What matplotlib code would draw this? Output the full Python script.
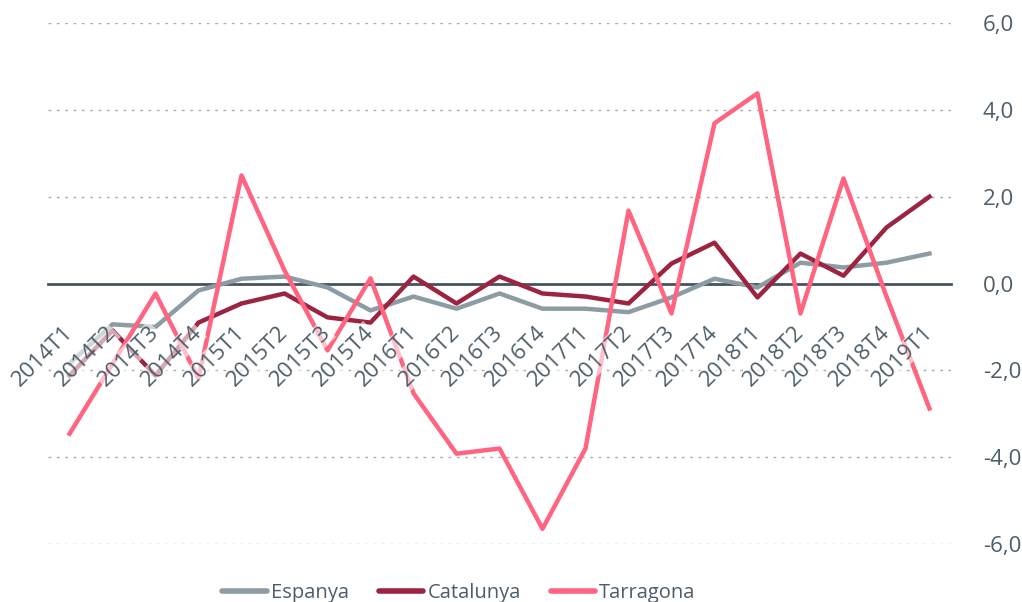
import matplotlib.pyplot as plt
import numpy as np
from matplotlib.ticker import FuncFormatter

plt.rcParams['font.family'] = ['Open Sans', 'DejaVu Sans']

# Trimestres
trimestres = ['2014T1', '2014T2', '2014T3', '2014T4',
              '2015T1', '2015T2', '2015T3', '2015T4',
              '2016T1', '2016T2', '2016T3', '2016T4',
              '2017T1', '2017T2', '2017T3', '2017T4',
              '2018T1', '2018T2', '2018T3', '2018T4',
              '2019T1']

# Valors llegits del gràfic
espanya = [-1.84, -0.94, -1.0, -0.16, 0.11, 0.16, -0.09, -0.62,
           -0.3, -0.58, -0.23, -0.58, -0.58, -0.66, -0.32, 0.11,
           -0.09, 0.48, 0.37, 0.48, 0.69]
catalunya = [-2.12, -1.08, -2.12, -0.9, -0.46, -0.23, -0.78, -0.9,
             0.16, -0.46, 0.16, -0.23, -0.3, -0.46, 0.46, 0.94,
             -0.32, 0.69, 0.18, 1.29, 2.0]
tarragona = [-3.46, -1.85, -0.23, -2.19, 2.49, 0.3, -1.54, 0.12,
             -2.53, -3.92, -3.8, -5.65, -3.8, 1.68, -0.69, 3.69,
             4.38, -0.69, 2.42, -0.3, -2.88]

color_text = '#4d5e6a'

fig = plt.figure(figsize=(10.22, 6.02), dpi=100)
ax = fig.add_axes([0.047, 0.0963, 0.8835, 0.8655])

x = np.arange(len(trimestres))
ax.plot(x, espanya, color='#8d9ba5', lw=3.2, label='Espanya', zorder=2)
ax.plot(x, catalunya, color='#9c2441', lw=3.2, label='Catalunya', zorder=2.1)
ax.plot(x, tarragona, color='#ff6480', lw=3.2, label='Tarragona', zorder=2.2)

# graella puntejada
for v in [-6, -4, -2, 2, 4, 6]:
    ax.axhline(v, color='#aaaaaa', lw=1, ls=(0, (2, 4)), zorder=0)

ax.set_xlim(-0.5, 20.5)
ax.set_ylim(-6, 6)

for s in ['top', 'right', 'left']:
    ax.spines[s].set_visible(False)
ax.spines['bottom'].set_position(('data', 0))
ax.spines['bottom'].set_color('#44545e')
ax.spines['bottom'].set_linewidth(2)
ax.spines['bottom'].set_zorder(1)

ax.set_yticks([-6, -4, -2, 0, 2, 4, 6])
ax.yaxis.tick_right()
ax.yaxis.set_major_formatter(FuncFormatter(lambda v, p: f'{v:.1f}'.replace('.', ',')))
ax.tick_params(axis='y', length=0, pad=23, labelsize=16, labelcolor=color_text)

ax.set_xticks(x)
ax.set_xticklabels(trimestres, rotation=45, ha='right', va='center', rotation_mode='anchor')
ax.tick_params(axis='x', length=0, pad=33, labelsize=16, labelcolor=color_text)
ax.xaxis.set_zorder(5)
for lbl in ax.get_xticklabels():
    lbl.set_bbox(dict(facecolor='white', alpha=0.6, edgecolor='none', pad=0.5))

leg = fig.legend(loc='center', bbox_to_anchor=(459 / 1022, 1 - 593 / 602), ncol=3,
                 frameon=False, fontsize=14.5, handlelength=2.2, handletextpad=0.2,
                 columnspacing=1.5, labelcolor=color_text)
for h in leg.get_lines():
    h.set_linewidth(4)
    h.set_solid_capstyle('round')

fig.savefig('out.png', dpi=100)
